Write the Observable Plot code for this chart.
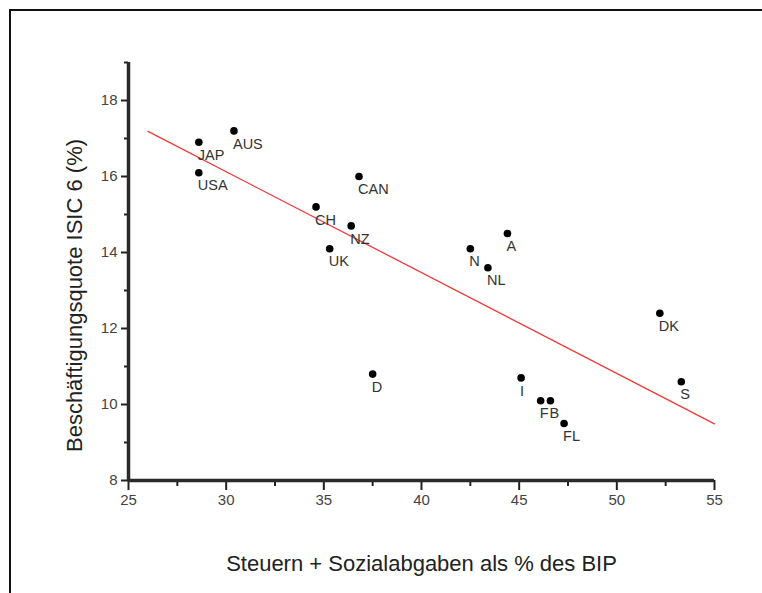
<!DOCTYPE html>
<html>
<head>
<meta charset="utf-8">
<script src="https://cdn.jsdelivr.net/npm/d3@7"></script>
<script src="https://cdn.jsdelivr.net/npm/@observablehq/plot@0.6"></script>
<style>
  html, body { margin: 0; padding: 0; background: #fff; }
  #wrap { position: relative; width: 762px; height: 593px; overflow: hidden; }
  #frame { position: absolute; left: 9px; top: 9px; width: 800px; height: 700px;
           border-top: 2px solid #111; border-left: 2px solid #111; pointer-events: none; }
  svg { font-family: "Liberation Sans", Arial, sans-serif; }
</style>
</head>
<body>
<div id="wrap"><div id="frame"></div></div>
<script>
// Country codes
const countries = ["JAP","AUS","USA","CAN","CH","NZ","UK","N","A","NL","DK","D","I","F","B","FL","S"];
// Steuern + Sozialabgaben als % des BIP
const taxShare = [28.6, 30.4, 28.6, 36.8, 34.6, 36.4, 35.3, 42.5, 44.4, 43.4, 52.2, 37.5, 45.1, 46.1, 46.6, 47.3, 53.3];
// Beschäftigungsquote ISIC 6 (%)
const employment = [16.9, 17.2, 16.1, 16.0, 15.2, 14.7, 14.1, 14.1, 14.5, 13.6, 12.4, 10.8, 10.7, 10.1, 10.1, 9.5, 10.6];

const xMajor = [25, 30, 35, 40, 45, 50, 55];
const xMinor = [27.5, 32.5, 37.5, 42.5, 47.5, 52.5];
const yMajor = [8, 10, 12, 14, 16, 18];
const yMinor = [9, 11, 13, 15, 17, 19];
const xDomain = [25, 55];
const yDomain = [8, 19];
const fitRange = [26, 55];

const xTitle = "Steuern + Sozialabgaben als % des BIP";
const yTitle = "Beschäftigungsquote ISIC 6 (%)";

const data = countries.map((c, i) => ({name: c, x: taxShare[i], y: employment[i]}));

// least-squares fit
const mx = d3.mean(taxShare), my = d3.mean(employment);
const slope = d3.sum(data, d => (d.x - mx) * (d.y - my)) / d3.sum(data, d => (d.x - mx) ** 2);
const fit = fitRange.map(x => ({x, y: my + slope * (x - mx)}));

const chart = Plot.plot({
  width: 762,
  height: 593,
  marginLeft: 128,
  marginRight: 48,
  marginTop: 62,
  marginBottom: 113,
  style: {fontFamily: "Liberation Sans, Arial, sans-serif", background: "transparent", overflow: "visible"},
  x: {domain: xDomain, axis: null},
  y: {domain: yDomain, axis: null},
  marks: [
    Plot.axisX(xMajor, {label: null, tickSize: 10, tickPadding: 4, fontSize: 15, stroke: "#222", strokeWidth: 2, color: "#444", tickFormat: d => d}),
    Plot.axisX(xMinor, {label: null, tickSize: 6, stroke: "#222", strokeWidth: 2, tickFormat: () => ""}),
    Plot.axisY(yMajor, {label: null, tickSize: 7, tickPadding: 4, fontSize: 15, stroke: "#222", strokeWidth: 2, color: "#444", tickFormat: d => d}),
    Plot.axisY(yMinor, {label: null, tickSize: 4, stroke: "#222", strokeWidth: 2, tickFormat: () => ""}),
    Plot.ruleY([yDomain[0]], {stroke: "#2a2a2a", strokeWidth: 3.5}),
    Plot.ruleX([xDomain[0]], {y1: yDomain[0], y2: yDomain[1], stroke: "#2a2a2a", strokeWidth: 3.5}),
    Plot.line(fit, {x: "x", y: "y", stroke: "#f03838", strokeWidth: 1.3}),
    Plot.dot(data, {x: "x", y: "y", r: 3.8, fill: "#000"}),
    Plot.text(data, {x: "x", y: "y", text: "name", textAnchor: "start", dx: -1, dy: 13, fontSize: 14.5, fill: "#333"}),
    Plot.text([xTitle], {frameAnchor: "bottom", dy: 90, fontSize: 22, fill: "#222"}),
    Plot.text([yTitle], {frameAnchor: "left", textAnchor: "middle", dx: -54, dy: 24, rotate: -90, fontSize: 22, fill: "#222"})
  ]
});
document.getElementById("wrap").prepend(chart);
</script>
</body>
</html>
